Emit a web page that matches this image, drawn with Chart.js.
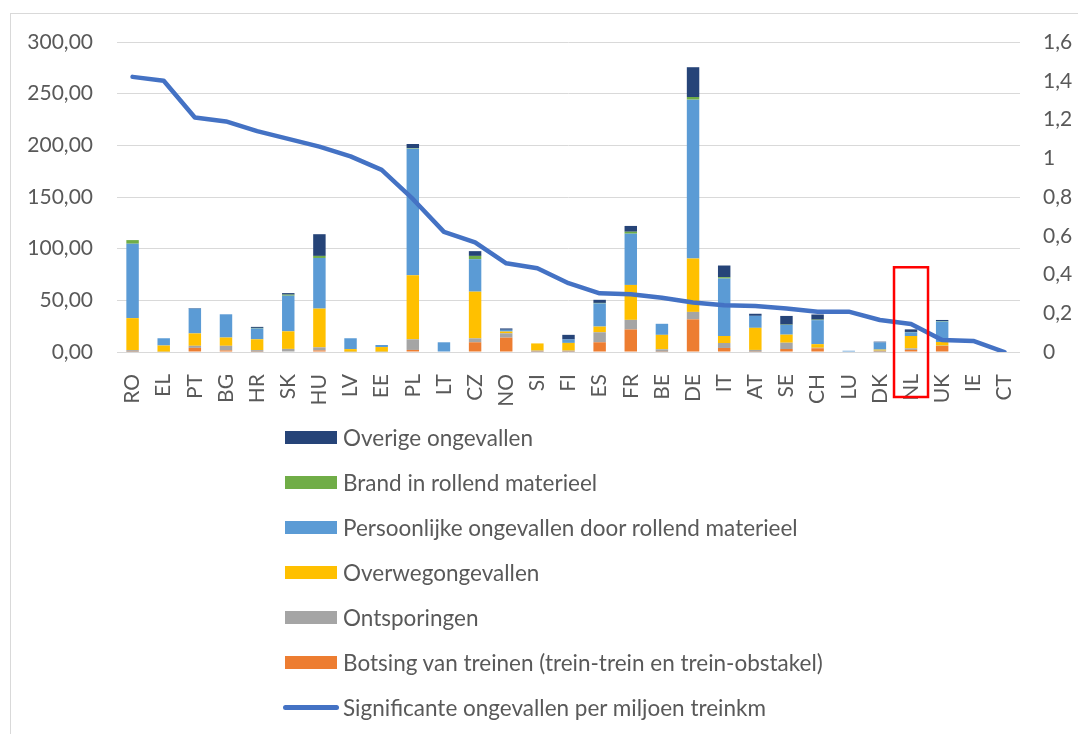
<!DOCTYPE html>
<html>
<head>
<meta charset="utf-8">
<script src="https://cdn.jsdelivr.net/npm/chart.js@4"></script>
<style>
  body { margin: 0; background: #fff; }
  #wrap { position: relative; width: 1078px; height: 734px; overflow: hidden; }
  #frame { position: absolute; left: 10px; top: 13px; width: 1200px; height: 900px; border: 1px solid #D9D9D9; }
  #lineChart { position: absolute; left: 0; top: 0; }
  #legend { position: absolute; left: 283px; top: 0; font-family: Lato, sans-serif; font-size: 22.5px; color: #595959; }
  .item { position: absolute; left: 0; height: 30px; width: 640px; }
  .mark { position: absolute; left: 2px; width: 52px; height: 13px; top: 8px; }
  .line { position: absolute; left: 0; width: 56px; height: 5px; top: 12px; border-radius: 3px; }
  .txt { position: absolute; left: 60px; top: 1px; white-space: nowrap; }
</style>
</head>
<body>
<div id="wrap">
  <div id="frame"></div>
  <canvas id="lineChart" width="1078" height="734"></canvas>
  <div id="legend"></div>
</div>
<script>
// Landen
var landen = ['RO','EL','PT','BG','HR','SK','HU','LV','EE','PL','LT','CZ','NO','SI','FI','ES','FR','BE','DE','IT','AT','SE','CH','LU','DK','NL','UK','IE','CT'];

// Ongevallen per type (linker as)
var botsing      = [0.3, 0, 4, 1.5, 0.3, 0.5, 1.5, 0, 0, 2, 0, 9.4, 13.9, 0.3, 0.3, 9.4, 21.8, 0.3, 31.6, 3.9, 0.3, 2.9, 3.6, 0, 0.3, 2, 5.8, 0, 0];
var ontsporing   = [1.5, 0.3, 2, 4.5, 1.5, 2.5, 3, 0.3, 0.3, 10.3, 0, 3.8, 4.2, 1, 1, 9.7, 9.3, 2.3, 7.2, 4.8, 1.7, 6.1, 0.5, 0, 1, 1.5, 0.3, 0, 0];
var overweg      = [31, 6, 12, 8, 10.5, 17, 37.5, 2.5, 4.5, 62, 0, 45.2, 1.7, 7, 7.5, 5.5, 33.8, 14, 51.7, 6.8, 21.4, 7.8, 3.5, 0, 1, 12, 3.6, 0, 0];
var persoonlijk  = [72, 7, 24, 22.5, 10.5, 34.5, 49, 10.5, 2, 122.5, 9.4, 31.4, 1.7, 0, 3.3, 22.4, 49.6, 10.7, 153.7, 55.6, 11.6, 9.4, 23.2, 1.2, 7, 3.6, 19.8, 0.5, 0];
var brand        = [3.5, 0, 0, 0, 0.5, 1, 2, 0, 0, 0.5, 0, 3.2, 0, 0, 0, 0.5, 1.9, 0, 2.6, 1.3, 0, 0.3, 0.5, 0, 0, 0.3, 0.5, 0, 0];
var overige      = [0, 0, 0.5, 0, 1, 1.5, 21, 0, 0, 4, 0, 4.6, 1.3, 0, 4.5, 3, 5.6, 0, 28.8, 11.3, 2, 8.4, 5, 0, 0.7, 2.5, 1, 0, 0];

// Significante ongevallen per miljoen treinkm (rechter as)
var perMiljoen   = [1.42, 1.40, 1.21, 1.19, 1.14, 1.10, 1.06, 1.01, 0.94, 0.79, 0.62, 0.566, 0.458, 0.432, 0.355, 0.303, 0.298, 0.28, 0.256, 0.241, 0.237, 0.224, 0.208, 0.208, 0.165, 0.145, 0.062, 0.057, 0];

var tekstKleur = '#595959';
var lettertype = { family: 'Lato', size: 21 };

function bar(label, data, kleur) {
    return {
        type: 'bar', label: label, data: data, backgroundColor: kleur,
        yAxisID: 'y', stack: 's', order: 1,
        barPercentage: 0.4, categoryPercentage: 1
    };
}

// Rood kader rond NL
var kaderNL = {
    id: 'kaderNL',
    afterDraw: function(chart) {
        var ctx = chart.ctx;
        var x = chart.scales.x.getPixelForValue(landen.indexOf('NL'));
        var top = chart.scales.y.getPixelForValue(82);
        var bottom = chart.chartArea.bottom + 45;
        ctx.save();
        ctx.strokeStyle = '#FF0000';
        ctx.lineWidth = 2.5;
        ctx.strokeRect(x - 17, top, 34, bottom - top);
        ctx.restore();
    }
};

var ctx = document.getElementById('lineChart').getContext('2d');
var myChart = new Chart(ctx, {
    data: {
        labels: landen,
        datasets: [
            bar('Botsing van treinen (trein-trein en trein-obstakel)', botsing, '#ED7D31'),
            bar('Ontsporingen', ontsporing, '#A5A5A5'),
            bar('Overwegongevallen', overweg, '#FFC000'),
            bar('Persoonlijke ongevallen door rollend materieel', persoonlijk, '#5B9BD5'),
            bar('Brand in rollend materieel', brand, '#70AD47'),
            bar('Overige ongevallen', overige, '#264478'),
            {
                type: 'line', label: 'Significante ongevallen per miljoen treinkm',
                data: perMiljoen, yAxisID: 'y1', order: 0,
                borderColor: '#4472C4', backgroundColor: '#4472C4',
                borderWidth: 4.5, pointRadius: 0, tension: 0,
                borderCapStyle: 'round', borderJoinStyle: 'round'
            }
        ]
    },
    options: {
        responsive: false,
        animation: false,
        layout: { padding: { left: 10, top: 42, right: 0, bottom: 0 } },
        scales: {
            x: {
                stacked: true,
                grid: { display: false },
                border: { display: false },
                ticks: { color: tekstKleur, font: lettertype, minRotation: 90, maxRotation: 90, padding: 14, autoSkip: false },
                afterFit: function(s) { s.height = 382; }
            },
            y: {
                stacked: true, position: 'left', min: 0, max: 300,
                grid: { color: '#D9D9D9', drawTicks: false },
                border: { display: false },
                ticks: {
                    stepSize: 50, color: tekstKleur, font: lettertype, padding: 24,
                    callback: function(v) { return v.toFixed(2).replace('.', ','); }
                },
                afterFit: function(s) { s.width = 107; }
            },
            y1: {
                position: 'right', min: 0, max: 1.6,
                grid: { drawOnChartArea: false, drawTicks: false },
                border: { display: false },
                ticks: {
                    stepSize: 0.2, color: tekstKleur, font: lettertype, padding: 23,
                    callback: function(v) { return String(Number(v.toFixed(1))).replace('.', ','); }
                },
                afterFit: function(s) { s.width = 58; }
            }
        },
        plugins: {
            legend: { display: false },
            tooltip: { enabled: false }
        }
    },
    plugins: [kaderNL]
});

// Legenda: staven in omgekeerde volgorde, daarna de lijn
var legenda = document.getElementById('legend');
var volgorde = [5, 4, 3, 2, 1, 0, 6];
volgorde.forEach(function(idx, i) {
    var ds = myChart.data.datasets[idx];
    var item = document.createElement('div');
    item.className = 'item';
    item.style.top = (423 + i * 45) + 'px';
    var m = document.createElement('div');
    m.className = ds.type === 'line' ? 'line' : 'mark';
    m.style.background = ds.type === 'line' ? ds.borderColor : ds.backgroundColor;
    var t = document.createElement('div');
    t.className = 'txt';
    t.textContent = ds.label;
    item.appendChild(m);
    item.appendChild(t);
    legenda.appendChild(item);
});
</script>
</body>
</html>
